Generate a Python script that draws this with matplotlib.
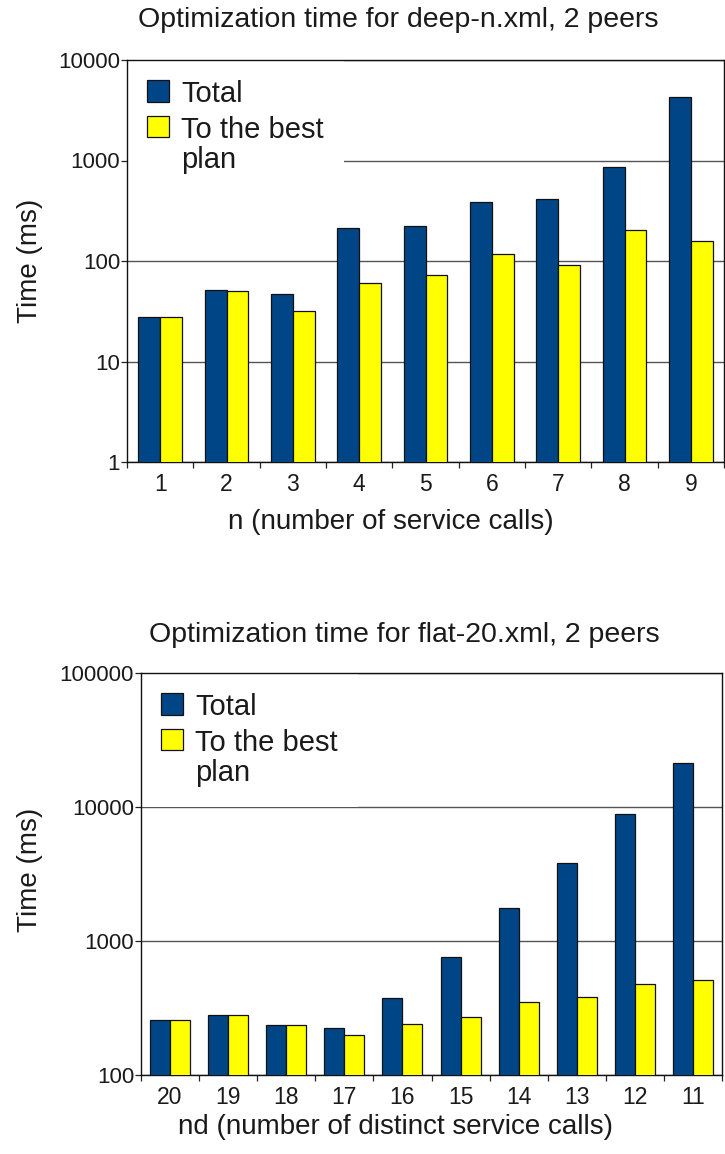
import numpy as np
import matplotlib
matplotlib.use("Agg")
import matplotlib.pyplot as plt
from matplotlib.patches import Patch
from matplotlib.ticker import FixedLocator, NullLocator

plt.rcParams['font.family'] = ['Liberation Sans', 'DejaVu Sans']

# top chart: deep-n.xml
deep_n = ['1', '2', '3', '4', '5', '6', '7', '8', '9']
deep_total = [28, 51, 47, 213, 223, 386, 414, 861, 4290]
deep_best = [28, 50, 32, 60, 72, 117, 91, 203, 158]

# bottom chart: flat-20.xml
flat_nd = ['20', '19', '18', '17', '16', '15', '14', '13', '12', '11']
flat_total = [257, 280, 236, 224, 375, 760, 1763, 3820, 8870, 21300]
flat_best = [257, 280, 236, 199, 240, 271, 351, 382, 477, 511]

BLUE = '#004586'
YELLOW = '#ffff00'
TXT = '#1a1a1a'
W, H = 725, 1154


def draw(ax, cats, total, best, bw, ymin, ymax):
	x = np.arange(len(cats))
	ax.bar(x - bw / 2, total, bw, color=BLUE, edgecolor='#111111', linewidth=0.9, zorder=3)
	ax.bar(x + bw / 2, best, bw, color=YELLOW, edgecolor='#111111', linewidth=0.9, zorder=3)
	ax.set_yscale('log')
	ax.set_ylim(ymin, ymax)
	ax.set_xlim(-0.5, len(cats) - 0.5)
	decades = [10 ** k for k in range(int(np.log10(ymin)), int(np.log10(ymax)) + 1)]
	ax.yaxis.set_major_locator(FixedLocator(decades))
	ax.yaxis.set_minor_locator(NullLocator())
	ax.set_yticklabels([str(d) for d in decades])
	ax.set_xticks(x)
	ax.set_xticklabels(cats)
	ax.set_xticks(np.arange(len(cats) + 1) - 0.5, minor=True)
	ax.tick_params(axis='x', which='major', length=0, pad=8, labelsize=16.5, labelcolor=TXT)
	ax.tick_params(axis='x', which='minor', length=4, width=0.9, direction='out', color='#222222')
	ax.tick_params(axis='y', which='major', length=4, width=0.9, direction='out', pad=1,
				   labelsize=16, labelcolor=TXT, color='#222222')
	ax.grid(axis='y', which='major', color='#555555', linewidth=1.0)
	ax.set_axisbelow(True)
	for s in ax.spines.values():
		s.set_color('#111111')
		s.set_linewidth(1.0)
	handles = [Patch(facecolor=BLUE, edgecolor='#111111', linewidth=0.9),
			   Patch(facecolor=YELLOW, edgecolor='#111111', linewidth=0.9)]
	leg = ax.legend(handles, ['Total', 'To the best\nplan'], loc='upper left',
					bbox_to_anchor=(0.0, 1.0), borderaxespad=0.0, fontsize=21,
					handlelength=0.75, handleheight=0.75, handletextpad=0.4,
					labelspacing=0.25, borderpad=0.7, frameon=True, fancybox=False)
	leg.get_frame().set_facecolor('white')
	leg.get_frame().set_edgecolor('none')
	leg.get_frame().set_alpha(1.0)
	leg.set_zorder(2.4)
	# patch next to the first line of a two-line label
	for col in leg._legend_handle_box.get_children():
		for item in col.get_children():
			item.align = 'top'
	for t in leg.get_texts():
		t.set_color(TXT)
		t.set_linespacing(1.1)
	return ax


fig = plt.figure(figsize=(W / 100, H / 100), dpi=100)

ax1 = fig.add_axes([127 / W, (H - 462) / H, 597 / W, 402 / H])
draw(ax1, deep_n, deep_total, deep_best, 0.33, 1, 10000)

ax2 = fig.add_axes([141 / W, (H - 1075) / H, 581 / W, 402 / H])
draw(ax2, flat_nd, flat_total, flat_best, 0.344, 100, 100000)

fig.text(398 / W, 1 - 20 / H, 'Optimization time for deep-n.xml, 2 peers',
		 ha='center', va='center', fontsize=20.5, color=TXT)
fig.text(391 / W, 1 - 522 / H, 'n (number of service calls)',
		 ha='center', va='center', fontsize=20, color=TXT)
fig.text(30 / W, 1 - 261 / H, 'Time (ms)', rotation=90,
		 ha='center', va='center', fontsize=20, color=TXT)

fig.text(404 / W, 1 - 635 / H, 'Optimization time for flat-20.xml, 2 peers',
		 ha='center', va='center', fontsize=20.5, color=TXT)
fig.text(396 / W, 1 - 1127 / H, 'nd (number of distinct service calls)',
		 ha='center', va='center', fontsize=20, color=TXT)
fig.text(30 / W, 1 - 870 / H, 'Time (ms)', rotation=90,
		 ha='center', va='center', fontsize=20, color=TXT)

fig.savefig('out.png', dpi=100)
